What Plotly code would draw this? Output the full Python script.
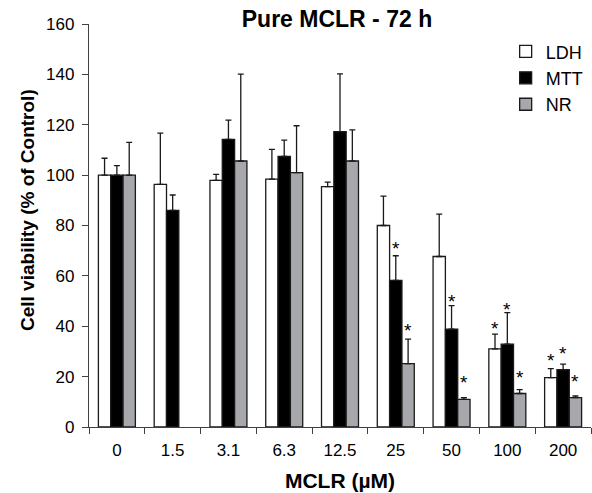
import plotly.graph_objects as go

categories = ["0", "1.5", "3.1", "6.3", "12.5", "25", "50", "100", "200"]
ldh = [100, 96.3, 97.9, 98.4, 95.4, 80.0, 67.7, 31.0, 19.6]
ldh_err = [6.7, 20.4, 2.4, 11.8, 1.8, 11.7, 16.8, 5.9, 3.6]
mtt = [100, 86.0, 114.2, 107.4, 117.3, 58.2, 38.8, 32.9, 22.8]
mtt_err = [3.8, 6.1, 7.6, 6.5, 22.9, 9.8, 9.4, 12.5, 2.2]
nr = [100, None, 105.6, 101.0, 105.6, 25.2, 11.0, 13.3, 11.7]
nr_err = [13.0, None, 34.5, 18.6, 12.4, 9.7, 0.7, 1.5, 0.6]

# significance marks (*): category, series, height
sig_cat = ["25", "25", "50", "50", "100", "100", "100", "200", "200", "200"]
sig_series = ["MTT", "NR", "MTT", "NR", "LDH", "MTT", "NR", "LDH", "MTT", "NR"]
sig_y = [72.8, 40.4, 52.0, 19.5, 41.0, 48.7, 21.6, 28.5, 31.1, 20.1]

y_ticks = [0, 20, 40, 60, 80, 100, 120, 140, 160]

FONT = "Liberation Sans, Arial, sans-serif"
BARGAP = 0.337
series_order = ["LDH", "MTT", "NR"]

ML, MR, MT, MB = 89, 1, 24, 66
W, H = 592, 493
plot_w = W - ML - MR
plot_h = H - MT - MB

fig = go.Figure()
specs = [
    ("LDH", ldh, ldh_err, "#ffffff"),
    ("MTT", mtt, mtt_err, "#000000"),
    ("NR", nr, nr_err, "#a7a8ac"),
]
for name, vals, errs, color in specs:
    fig.add_trace(go.Bar(
        name=name, x=categories, y=vals,
        marker=dict(color=color, line=dict(color="#1a1a1a", width=1.3)),
        error_y=dict(type="data", symmetric=False, array=errs,
                     arrayminus=[0] * len(errs), color="#1a1a1a",
                     thickness=1.3, width=3),
    ))

bw = (1 - BARGAP) / 3
for c, s, yv in zip(sig_cat, sig_series, sig_y):
    xi = categories.index(c) + (series_order.index(s) - 1) * bw
    fig.add_annotation(x=xi, y=yv, xref="x", yref="y", text="*",
                       showarrow=False, xanchor="center", yanchor="middle", yshift=-5,
                       font=dict(family=FONT, size=19, color="#000"))

# y-axis title as annotation (sits a little above plot centre, as in reference)
fig.add_annotation(x=(27 - ML) / plot_w, xref="paper", y=(427 - 210) / plot_h, yref="paper",
                   text="<b>Cell viability (% of Control)</b>", textangle=-90,
                   xanchor="center", yanchor="middle",
                   showarrow=False, font=dict(family=FONT, size=19, color="#000"))

fig.update_layout(
    width=W, height=H,
    margin=dict(l=ML, r=MR, t=MT, b=MB),
    paper_bgcolor="white", plot_bgcolor="white",
    barmode="group", bargap=BARGAP, bargroupgap=0,
    font=dict(family=FONT, size=17, color="#000"),
    title=dict(text="<b>Pure MCLR - 72 h</b>", x=337 / W, xanchor="center",
               y=1 - 19 / H, yanchor="middle", yref="container",
               font=dict(family=FONT, size=23, color="#000")),
    legend=dict(x=0.83, y=0.977, xanchor="left", yanchor="top",
                bgcolor="rgba(0,0,0,0)", font=dict(family=FONT, size=18, color="#000"),
                tracegroupgap=0),
    showlegend=True,
)

fig.update_xaxes(
    type="category", tickson="boundaries", ticks="outside", ticklen=6,
    tickcolor="#404040", tickwidth=1.3, showline=True, linecolor="#404040",
    linewidth=1.3, showgrid=False, zeroline=False,
    tickfont=dict(family=FONT, size=17, color="#000"), ticklabelstandoff=7,
    title=dict(text="<b>MCLR (\u00b5M)</b>", font=dict(family=FONT, size=21, color="#000"),
               standoff=14),
)
fig.update_yaxes(
    range=[0, 160], tickvals=y_ticks, ticks="outside", ticklen=6,
    tickcolor="#404040", tickwidth=1.3, showline=True, linecolor="#404040",
    linewidth=1.3, showgrid=False, zeroline=False,
    tickfont=dict(family=FONT, size=17, color="#000"), ticklabelstandoff=4,
)

fig.write_html("out.html", config={"displayModeBar": False})

# remove the browser's default body margin so the figure fills the window
with open("out.html", "r", encoding="utf-8") as f:
    html = f.read()
html = html.replace("<head>", "<head><style>html,body{margin:0;padding:0;overflow:hidden}</style>", 1)
with open("out.html", "w", encoding="utf-8") as f:
    f.write(html)
